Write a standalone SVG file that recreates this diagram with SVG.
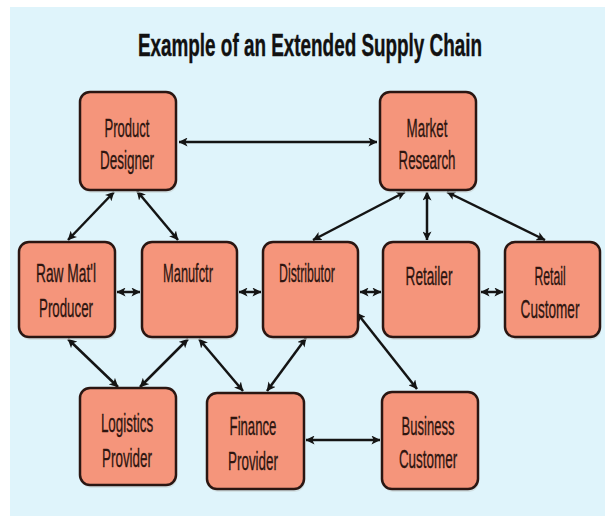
<svg xmlns="http://www.w3.org/2000/svg" width="605" height="516" viewBox="0 0 605 516">
<style>
.box{fill:#f5957b;stroke:#2a1612;stroke-width:2.5}
.sh{fill:#c9d3d6;opacity:0.6}
.lbl{font-family:"Liberation Sans",Arial,sans-serif;font-size:26px;fill:#2e1510;stroke:#2e1510;stroke-width:0.35;text-anchor:middle}
.title{font-family:"Liberation Sans",Arial,sans-serif;font-size:32px;font-weight:bold;fill:#111;stroke:#111;stroke-width:0.4;text-anchor:middle}
.c{stroke:#141414;stroke-width:2.5;fill:none;marker-start:url(#ah);marker-end:url(#ah)}
</style>
<defs>
<marker id="ah" markerUnits="userSpaceOnUse" markerWidth="9" markerHeight="9" refX="9.5" refY="5" orient="auto-start-reverse" viewBox="0 0 10 10">
<path d="M0,0 L10,5 L0,10 L2.5,5 z" fill="#141414"/>
</marker>
</defs>
<rect x="0" y="0" width="605" height="516" fill="#ffffff"/>
<rect x="10" y="7" width="595" height="509" fill="#dff4fb"/>
<text class="title" transform="translate(310,56) scale(0.62,1)" x="0" y="0" textLength="555" lengthAdjust="spacingAndGlyphs">Example of an Extended Supply Chain</text>

<g id="connectors">
<line class="c" x1="179" y1="142" x2="377" y2="142"/>
<line class="c" x1="114" y1="192" x2="68" y2="240"/>
<line class="c" x1="137" y1="191" x2="178" y2="240"/>
<line class="c" x1="117" y1="292" x2="140" y2="292"/>
<line class="c" x1="239" y1="292" x2="261" y2="292"/>
<line class="c" x1="360" y1="292" x2="381" y2="292"/>
<line class="c" x1="481" y1="292" x2="503" y2="292"/>
<line class="c" x1="405" y1="192" x2="313" y2="240"/>
<line class="c" x1="427" y1="192" x2="427" y2="240"/>
<line class="c" x1="447" y1="192" x2="545" y2="240"/>
<line class="c" x1="68" y1="339" x2="118" y2="387"/>
<line class="c" x1="188" y1="339" x2="140" y2="387"/>
<line class="c" x1="199" y1="339" x2="243" y2="391"/>
<line class="c" x1="306" y1="338" x2="267" y2="391"/>
<line class="c" x1="357" y1="313" x2="417" y2="389"/>
<line class="c" x1="306" y1="440" x2="380" y2="440"/>
</g>

<g id="product-designer">
<rect class="sh" x="81" y="95" width="96" height="98" rx="10"/>
<rect class="box" x="80" y="92" width="96" height="98" rx="10"/>
<text class="lbl" transform="translate(127,137) scale(0.6,1)" textLength="75" lengthAdjust="spacingAndGlyphs">Product</text>
<text class="lbl" transform="translate(127,169) scale(0.6,1)" textLength="90" lengthAdjust="spacingAndGlyphs">Designer</text>
</g>
<g id="market-research">
<rect class="sh" x="381" y="95" width="96" height="98" rx="10"/>
<rect class="box" x="380" y="92" width="96" height="98" rx="10"/>
<text class="lbl" transform="translate(427,137) scale(0.6,1)" textLength="68" lengthAdjust="spacingAndGlyphs">Market</text>
<text class="lbl" transform="translate(427,169) scale(0.6,1)" textLength="95" lengthAdjust="spacingAndGlyphs">Research</text>
</g>
<g id="raw-material-producer">
<rect class="sh" x="20" y="245" width="96" height="95" rx="10"/>
<rect class="box" x="19" y="242" width="96" height="95" rx="10"/>
<text class="lbl" transform="translate(66,282) scale(0.6,1)" textLength="100" lengthAdjust="spacingAndGlyphs">Raw Mat'l</text>
<text class="lbl" transform="translate(66,317) scale(0.6,1)" textLength="90" lengthAdjust="spacingAndGlyphs">Producer</text>
</g>
<g id="manufacturer">
<rect class="sh" x="143" y="245" width="95" height="95" rx="10"/>
<rect class="box" x="142" y="242" width="95" height="95" rx="10"/>
<text class="lbl" transform="translate(188,282) scale(0.6,1)" textLength="83" lengthAdjust="spacingAndGlyphs">Manufctr</text>
</g>
<g id="distributor">
<rect class="sh" x="264" y="245" width="95" height="95" rx="10"/>
<rect class="box" x="263" y="242" width="95" height="95" rx="10"/>
<text class="lbl" transform="translate(307,282) scale(0.6,1)" font-size="24" textLength="93" lengthAdjust="spacingAndGlyphs">Distributor</text>
</g>
<g id="retailer">
<rect class="sh" x="384" y="245" width="96" height="95" rx="10"/>
<rect class="box" x="383" y="242" width="96" height="95" rx="10"/>
<text class="lbl" transform="translate(429,285) scale(0.6,1)" textLength="78" lengthAdjust="spacingAndGlyphs">Retailer</text>
</g>
<g id="retail-customer">
<rect class="sh" x="506" y="245" width="95" height="95" rx="10"/>
<rect class="box" x="505" y="242" width="95" height="95" rx="10"/>
<text class="lbl" transform="translate(550,285) scale(0.6,1)" textLength="52" lengthAdjust="spacingAndGlyphs">Retail</text>
<text class="lbl" transform="translate(550,318) scale(0.6,1)" textLength="98" lengthAdjust="spacingAndGlyphs">Customer</text>
</g>
<g id="logistics-provider">
<rect class="sh" x="81" y="391" width="96" height="97" rx="10"/>
<rect class="box" x="80" y="388" width="96" height="97" rx="10"/>
<text class="lbl" transform="translate(127,432) scale(0.6,1)" textLength="87" lengthAdjust="spacingAndGlyphs">Logistics</text>
<text class="lbl" transform="translate(127,467) scale(0.6,1)" textLength="83" lengthAdjust="spacingAndGlyphs">Provider</text>
</g>
<g id="finance-provider">
<rect class="sh" x="208" y="396" width="97" height="96" rx="10"/>
<rect class="box" x="207" y="393" width="97" height="96" rx="10"/>
<text class="lbl" transform="translate(253,435) scale(0.6,1)" textLength="78" lengthAdjust="spacingAndGlyphs">Finance</text>
<text class="lbl" transform="translate(253,470) scale(0.6,1)" textLength="83" lengthAdjust="spacingAndGlyphs">Provider</text>
</g>
<g id="business-customer">
<rect class="sh" x="383" y="395" width="96" height="97" rx="10"/>
<rect class="box" x="382" y="392" width="96" height="97" rx="10"/>
<text class="lbl" transform="translate(428,435) scale(0.6,1)" textLength="88" lengthAdjust="spacingAndGlyphs">Business</text>
<text class="lbl" transform="translate(428,468) scale(0.6,1)" textLength="97" lengthAdjust="spacingAndGlyphs">Customer</text>
</g>
</svg>
